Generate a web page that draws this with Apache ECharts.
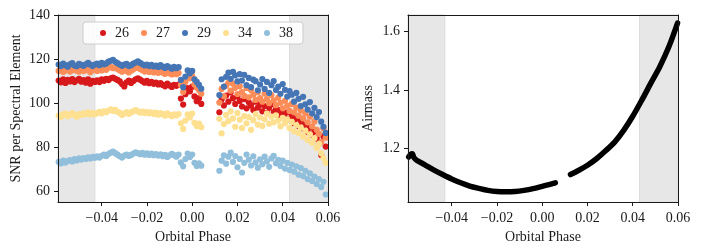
<!DOCTYPE html>
<html>
<head>
<meta charset="utf-8">
<script src="https://cdn.jsdelivr.net/npm/echarts@6/dist/echarts.min.js"></script>
<style>
html,body{margin:0;padding:0;background:#fff;}
#c{width:701px;height:252px;}
</style>
</head>
<body>
<div id="c"></div>
<script>
// ---- data ----
const seriesNames = ['26', '27', '29', '34', '38'];
const phase1 = [-0.059,-0.058,-0.057,-0.056,-0.055,-0.054,-0.053,-0.052,-0.051,-0.050,-0.049,-0.048,-0.047,-0.046,-0.045,-0.044,-0.043,-0.042,-0.041,-0.040,-0.039,-0.038,-0.037,-0.036,-0.035,-0.034,-0.033,-0.032,-0.031,-0.030,-0.029,-0.028,-0.027,-0.026,-0.025,-0.024,-0.023,-0.022,-0.021,-0.020,-0.019,-0.018,-0.017,-0.016,-0.015,-0.014,-0.013,-0.012,-0.011,-0.010,-0.009,-0.008,-0.007,-0.006,-0.005,-0.004,-0.003,-0.002,-0.001,0.000,0.001,0.002,0.003,0.004];
const phase2 = [0.012,0.013,0.014,0.015,0.016,0.017,0.018,0.019,0.020,0.021,0.022,0.023,0.024,0.025,0.026,0.027,0.028,0.029,0.030,0.031,0.032,0.033,0.034,0.035,0.036,0.037,0.038,0.039,0.040,0.041,0.042,0.043,0.044,0.045,0.046,0.047,0.048,0.049,0.050,0.051,0.052,0.053,0.054,0.055,0.056,0.057,0.058,0.059];

const snr26a = [110.2,109.4,110.8,109.1,110.5,109.8,110.9,109.5,110.3,111.0,109.7,110.4,109.2,110.7,108.8,110.1,109.6,
110.3,109.5,110.8,110.1,111.0,110.4,111.2,111.6,111.0,110.5,
109.8,108.6,107.5,109.4,110.2,109.1,110.0,110.8,111.2,110.6,109.9,109.2,110.1,109.0,
109.6,108.7,109.3,108.4,109.0,108.2,107.6,108.8,108.0,107.3,108.3,107.8,
108.4,102.0,99.3,104.0,106.8,105.3,107.4,103.0,100.8,102.2,99.6];
const snr26b = [95.8,101.6,98.9,103.4,100.6,104.8,102.2,99.6,103.0,100.9,
98.4,101.8,97.6,100.3,98.9,96.8,100.6,97.9,99.2,96.2,
98.6,95.4,97.8,99.4,95.9,97.2,94.6,96.9,95.2,93.4,
95.8,92.6,94.1,90.8,92.9,89.6,91.8,88.4,90.2,86.8,
88.9,85.6,87.2,83.9,81.6,76.4,84.8,80.2];

const snr27a = [114.6,115.2,114.1,114.8,115.4,114.3,114.9,115.6,114.7,114.2,115.1,114.5,115.3,114.8,114.0,114.9,115.2,
114.6,115.3,114.8,115.7,115.1,116.0,116.4,115.8,116.2,115.4,
114.8,114.2,115.0,114.5,113.9,114.7,115.3,115.9,116.1,115.4,114.9,114.3,114.8,114.1,
114.6,113.9,114.3,113.7,114.5,113.8,113.2,114.1,113.5,113.0,113.8,113.1,
113.6,108.2,105.0,109.6,112.0,111.2,112.3,108.4,107.0,105.8,104.2];
const snr27b = [100.2,106.4,103.1,107.8,109.2,105.6,108.8,106.9,104.1,107.6,
105.0,103.2,106.8,102.6,105.9,103.8,101.4,104.9,102.2,100.6,
104.3,101.8,99.9,103.6,101.2,99.0,102.4,100.1,97.6,101.0,
98.8,96.4,99.6,95.8,97.9,94.2,96.6,93.0,95.4,91.2,
93.8,89.4,91.6,87.8,86.0,82.2,88.4,84.2];

const snr29a = [117.5,116.8,117.9,117.2,116.5,117.6,118.1,117.0,116.7,117.8,117.3,116.9,117.6,118.2,117.4,116.8,117.5,
117.9,117.2,118.3,117.6,118.0,118.8,119.2,119.6,118.7,118.1,
117.5,116.9,117.4,117.8,116.8,117.2,117.9,118.4,118.9,118.2,117.6,117.1,117.5,116.8,
117.3,116.6,117.0,116.4,117.2,116.5,115.9,116.8,116.2,115.6,116.4,115.8,
116.3,110.5,107.2,112.0,114.8,113.5,114.6,110.8,109.6,108.2,106.5];
const snr29b = [103.6,110.8,107.4,111.9,113.8,111.0,114.2,112.6,109.8,113.1,
110.2,112.8,108.1,111.4,107.2,110.6,109.9,105.8,108.4,110.9,
106.4,109.6,104.6,108.1,110.0,105.9,107.4,104.2,108.6,106.0,
102.9,105.4,103.8,100.6,104.6,101.9,98.6,102.8,99.4,97.0,
100.4,95.3,97.8,93.6,95.9,91.5,89.2,86.4];

const snr34a = [94.3,93.6,94.8,95.2,94.0,94.7,95.4,94.5,93.8,95.0,94.6,95.3,94.9,95.7,94.8,95.5,94.9,
95.4,96.0,95.3,96.2,95.8,96.6,97.1,96.4,96.9,96.0,
95.5,94.6,95.2,95.9,95.1,95.7,96.3,96.8,96.2,95.6,96.1,95.4,96.0,95.3,
95.8,95.0,95.6,94.7,95.4,94.9,94.2,95.3,94.6,94.0,94.8,94.3,
95.0,90.8,88.2,92.0,94.8,93.4,95.2,91.0,89.5,90.6,89.0];
const snr34b = [92.8,86.2,90.4,94.6,91.8,96.2,93.0,89.2,95.4,92.4,
88.6,94.0,90.8,93.6,87.8,92.2,95.0,90.2,93.4,89.6,
92.6,95.2,90.6,93.8,91.2,94.4,92.0,89.4,93.2,90.8,
92.6,88.6,91.4,87.2,90.0,86.4,88.8,84.8,87.4,83.2,
85.8,81.8,84.0,79.6,81.4,77.2,75.0,72.8];

const snr38a = [73.2,72.5,73.8,72.9,73.6,74.1,73.4,74.5,73.9,74.8,74.3,75.0,74.6,75.3,74.8,75.5,75.1,
75.7,75.2,76.0,76.6,75.9,76.8,77.4,77.9,77.2,76.5,
75.8,75.2,76.1,76.6,75.9,76.4,77.0,77.6,77.2,76.7,77.3,76.5,77.1,76.4,
77.0,76.3,76.8,76.1,76.7,75.8,76.4,75.5,76.2,76.9,76.3,75.6,
76.6,73.0,71.2,74.5,77.0,75.4,76.6,72.8,71.4,72.6,71.5];
const snr38b = [69.2,73.8,76.2,72.4,75.6,77.4,73.2,75.9,70.8,74.6,
68.4,72.8,76.6,74.2,71.6,75.8,73.0,70.6,74.4,72.2,
75.6,73.4,71.0,74.8,76.0,72.6,74.2,71.4,73.8,70.2,
72.8,69.6,72.0,68.8,71.2,67.4,70.4,66.8,69.2,65.4,
68.0,64.6,66.6,63.2,65.4,61.8,64.2,58.4];

const airPhase1 = [-0.0590,-0.0581,-0.0574,-0.0567,-0.0555,-0.052,-0.048,-0.044,-0.040,-0.036,-0.032,-0.028,-0.024,-0.020,-0.016,-0.012,-0.008,-0.004,0.000,0.003,0.0058];
const airmass1  = [1.171,1.180,1.182,1.169,1.160,1.145,1.127,1.111,1.096,1.083,1.072,1.064,1.057,1.053,1.052,1.053,1.057,1.063,1.071,1.077,1.083];
const airPhase2 = [0.0125,0.016,0.020,0.024,0.028,0.032,0.036,0.040,0.044,0.048,0.052,0.056,0.0598];
const airmass2  = [1.111,1.125,1.143,1.165,1.192,1.222,1.262,1.310,1.365,1.423,1.480,1.548,1.628];

const xTicks = [-0.04,-0.02,0,0.02,0.04,0.06];
const snrTicks = [60,80,100,120,140];
const airTicks = [1.2,1.4,1.6];
const shadeBounds = [[-0.0593,-0.043],[0.043,0.06]];

// ---- chart ----
const colors = ['#d7191c','#fc8d59','#4575b4','#fee090','#91bfdb'];
const snrA = [snr26a, snr27a, snr29a, snr34a, snr38a];
const snrB = [snr26b, snr27b, snr29b, snr34b, snr38b];
const FONT = 'Liberation Serif';
const TXT = '#1a1a1a';
const FS = 14;
const XMIN = -0.0593, XMAX = 0.06;

function pairs(xs, ys){ return xs.map((x,i)=>[x, ys[i]]); }
function fmtX(v){
  if (Math.abs(v) < 1e-9) return '0.00';
  return (v < 0 ? '\u2212' : '') + Math.abs(v).toFixed(2);
}
function xAxisCfg(gi){
  return {
    gridIndex: gi, type: 'value', min: XMIN, max: XMAX, z: 10,
    name: 'Orbital Phase', nameLocation: 'middle', nameGap: 27,
    nameTextStyle: {fontFamily: FONT, fontSize: FS, color: TXT},
    axisLine: {onZero: false, lineStyle: {color: TXT, width: 1}},
    axisTick: {show: true, length: 4, customValues: xTicks, lineStyle: {color: TXT}},
    axisLabel: {customValues: xTicks, formatter: fmtX, margin: 9, fontFamily: FONT, fontSize: FS, color: TXT},
    splitLine: {show: false}
  };
}
function spineX(gi){
  return {gridIndex: gi, type: 'value', position: 'top', min: XMIN, max: XMAX, z: 10,
    axisLine: {onZero: false, lineStyle: {color: TXT, width: 1}},
    axisTick: {show: false}, axisLabel: {show: false}, splitLine: {show: false}};
}
function yAxisCfg(gi, min, max, ticks, name, gap, fmt){
  return {
    gridIndex: gi, type: 'value', min: min, max: max, z: 10,
    name: name, nameLocation: 'middle', nameGap: gap,
    nameTextStyle: {fontFamily: FONT, fontSize: FS, color: TXT},
    axisLine: {onZero: false, lineStyle: {color: TXT, width: 1}},
    axisTick: {show: true, length: 4, customValues: ticks, lineStyle: {color: TXT}},
    axisLabel: {customValues: ticks, formatter: fmt, margin: 8, fontFamily: FONT, fontSize: FS, color: TXT},
    splitLine: {show: false}
  };
}
function spineY(gi, min, max){
  return {gridIndex: gi, type: 'value', position: 'right', min: min, max: max, z: 10,
    axisLine: {onZero: false, lineStyle: {color: TXT, width: 1}},
    axisTick: {show: false}, axisLabel: {show: false}, splitLine: {show: false}};
}
function shadeSeries(gi){
  return {
    type: 'line', xAxisIndex: gi, yAxisIndex: gi, data: [], silent: true, z: 1,
    markArea: {
      silent: true,
      itemStyle: {color: '#e7e7e7', borderColor: '#dcdcdc', borderWidth: 1},
      data: shadeBounds.map(b => [{xAxis: b[0]}, {xAxis: b[1]}])
    }
  };
}

const series = [shadeSeries(0), shadeSeries(1)];
seriesNames.forEach((n, k) => {
  series.push({
    name: n, type: 'scatter', xAxisIndex: 0, yAxisIndex: 0, z: 2 + k,
    symbol: 'circle', symbolSize: 6.2,
    itemStyle: {color: colors[k], opacity: 1},
    data: pairs(phase1, snrA[k]).concat(pairs(phase2, snrB[k]))
  });
});
[[airPhase1, airmass1],[airPhase2, airmass2]].forEach(seg => {
  series.push({
    type: 'line', xAxisIndex: 1, yAxisIndex: 1, z: 3,
    symbol: 'none', smooth: 0.3, silent: true,
    lineStyle: {color: '#000', width: 5.5, cap: 'round', join: 'round'},
    data: pairs(seg[0], seg[1])
  });
});

const chart = echarts.init(document.getElementById('c'), null, {renderer: 'canvas'});
chart.setOption({
  animation: false,
  backgroundColor: '#fff',
  grid: [
    {left: 58, top: 15, width: 270, height: 187},
    {left: 408, top: 15, width: 270, height: 187}
  ],
  xAxis: [xAxisCfg(0), xAxisCfg(1), spineX(0), spineX(1)],
  yAxis: [
    yAxisCfg(0, 55, 140, snrTicks, 'SNR per Spectral Element', 35, v => String(v)),
    yAxisCfg(1, 1.0174, 1.6557, airTicks, 'Airmass', 33, v => v.toFixed(1)),
    spineY(0, 55, 140),
    spineY(1, 1.0174, 1.6557)
  ],
  legend: {
    data: seriesNames, left: 83, top: 22,
    orient: 'horizontal', icon: 'circle', itemWidth: 6, itemHeight: 6, itemGap: 12,
    padding: [4, 10, 4, 17],
    backgroundColor: 'rgba(255,255,255,0.85)', borderColor: '#cccccc', borderWidth: 1, borderRadius: 3,
    textStyle: {fontFamily: FONT, fontSize: FS, color: TXT, padding: [0, 0, 0, 4]}
  },
  series: series
});
</script>
</body>
</html>
